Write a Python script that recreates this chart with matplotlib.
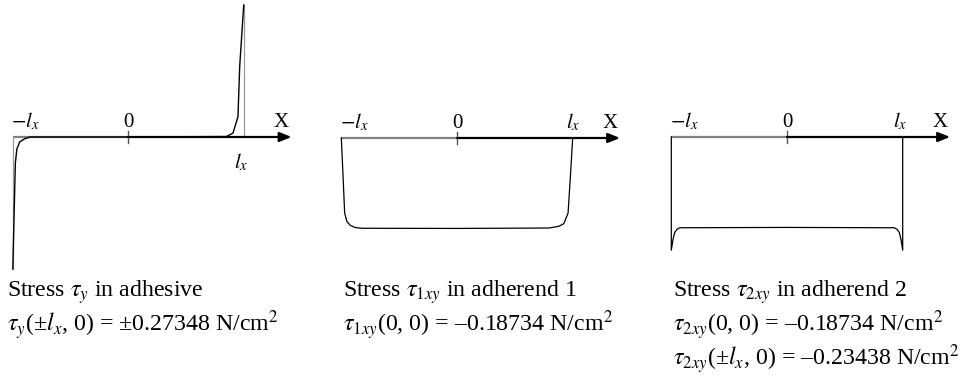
import matplotlib
matplotlib.use("Agg")
import matplotlib.pyplot as plt

plt.rcParams['font.family'] = ['Liberation Serif', 'DejaVu Serif']
plt.rcParams['mathtext.fontset'] = 'stix'

# peak / centre values (N/cm^2)
TAU_Y_EDGE = 0.27348
TAU_1XY_MID = -0.18734
TAU_2XY_MID = -0.18734
TAU_2XY_EDGE = -0.23438

# stress in adhesive, x in units of l_x
x_ad = [-1.0, -0.978, -0.965, -0.94, -0.90, -0.85, 0.0, 0.846, 0.903, 0.946, 0.961, 0.996]
tau_ad = [-TAU_Y_EDGE, -0.054, -0.025, -0.010, -0.004, 0.0, 0.0, 0.001, 0.008, 0.042, 0.146, TAU_Y_EDGE]

# stress in adherend 1
x_a1 = [-1.0, -0.985, -0.971, -0.952, -0.922, -0.879, -0.822, 0.0,
        0.793, 0.880, 0.923, 0.960, 0.980, 1.0]
tau_a1 = [0.0, -0.078, -0.1554, -0.1728, -0.181, -0.1856, -0.187, TAU_1XY_MID,
          -0.1865, -0.183, -0.1775, -0.1554, -0.08, 0.0]

# stress in adherend 2
x_a2 = [-1.0, -1.0, -0.985, -0.971, -0.950, -0.927, 0.0, 0.927, 0.950, 0.971, 0.985, 1.0, 1.0]
tau_a2 = [0.0, TAU_2XY_EDGE, -0.212, -0.198, -0.191, -0.188, TAU_2XY_MID,
          -0.188, -0.191, -0.198, -0.212, TAU_2XY_EDGE, 0.0]

captions = [
    ["Stress $\\tau_y$ in adhesive",
     "$\\tau_y$(±$l_x$, 0) = ±0.27348 N/cm$^2$"],
    ["Stress $\\tau_{1xy}$ in adherend 1",
     "$\\tau_{1xy}$(0, 0) = \u20130.18734 N/cm$^2$"],
    ["Stress $\\tau_{2xy}$ in adherend 2",
     "$\\tau_{2xy}$(0, 0) = \u20130.18734 N/cm$^2$",
     "$\\tau_{2xy}$(±$l_x$, 0) = \u20130.23438 N/cm$^2$"],
]

W, H = 961, 377
fig = plt.figure(figsize=(W / 100, H / 100), dpi=100)

sx, sy = 115.7, 482.7          # pixels per l_x, pixels per N/cm^2
xlo, xhi = -1.1, 1.5
origins = [(128.5, 137), (457, 138), (787, 137)]
cap_x = [7, 343, 673]
gray = '#808080'
lab = 15

axes = []
for cx, cy in origins:
    left = cx + xlo * sx
    ax = fig.add_axes([left / W, 0, (xhi - xlo) * sx / W, 1])
    ax.set_xlim(xlo, xhi)
    ax.set_ylim(-(H - cy) / sy, cy / sy)
    ax.axis('off')
    # axis: grey left half, black arrow from 0
    ax.plot([-1, 0], [0, 0], color=gray, lw=1.6, solid_capstyle='butt')
    ax.annotate('', xy=(1.41, 0), xytext=(0, 0),
                arrowprops=dict(arrowstyle='-|>,head_length=0.55,head_width=0.22',
                                mutation_scale=13, color='k', lw=1.6,
                                shrinkA=0, shrinkB=0))
    ax.plot([0, 0], [-0.012, 0.012], color='#555555', lw=1.0)
    ax.text(-0.89, 0.021, '$-l_x$', fontsize=lab, ha='center', va='baseline')
    ax.text(0, 0.021, '0', fontsize=lab, ha='center', va='baseline')
    ax.text(1.32, 0.021, 'X', fontsize=lab, ha='center', va='baseline')
    axes.append(ax)

ax1, ax2, ax3 = axes

ax1.plot([-1, -1], [0, -TAU_Y_EDGE], color='#999999', lw=0.9)
ax1.plot([1, 1], [0, TAU_Y_EDGE], color='#999999', lw=0.9)
ax1.plot(x_ad, tau_ad, color='k', lw=1.0)
ax1.text(0.97, -0.064, '$l_x$', fontsize=lab, ha='center', va='baseline')

ax2.plot(x_a1, tau_a1, color='k', lw=0.9)
ax2.text(1.0, 0.021, '$l_x$', fontsize=lab, ha='center', va='baseline')

ax3.plot(x_a2, tau_a2, color='k', lw=0.9)
ax3.text(0.98, 0.021, '$l_x$', fontsize=lab, ha='center', va='baseline')

baselines = [297, 332, 366]
for x0, lines in zip(cap_x, captions):
    for yb, s in zip(baselines, lines):
        fig.text(x0 / W, 1 - yb / H, s, fontsize=17.2, ha='left', va='baseline')

fig.savefig('out.png', dpi=100, facecolor='white')
